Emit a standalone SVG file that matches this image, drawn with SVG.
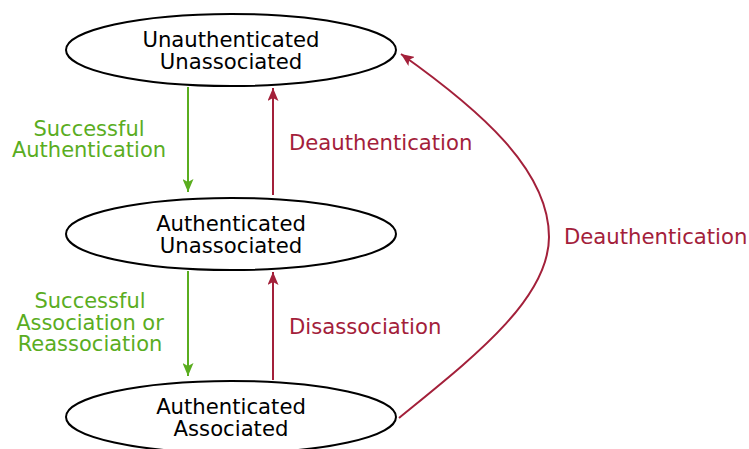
<svg xmlns="http://www.w3.org/2000/svg" width="749" height="449" viewBox="0 0 749 449">
  <defs>
    <style>
      .state { fill: #ffffff; stroke: #000000; stroke-width: 2; }
      .name { font-family: "DejaVu Sans", sans-serif; font-size: 21.2px; fill: #000000; text-anchor: middle; }
      .ok { stroke: #5aad1f; stroke-width: 2; fill: none; }
      .back { stroke: #a3203a; stroke-width: 2; fill: none; }
      .ok-label { font-family: "DejaVu Sans", sans-serif; font-size: 21px; fill: #5aad1f; text-anchor: middle; }
      .back-label { font-family: "DejaVu Sans", sans-serif; font-size: 21.2px; fill: #a3203a; }
    </style>
    <marker id="head-ok" viewBox="0 0 13 11" refX="13" refY="5.5" markerWidth="13" markerHeight="11" markerUnits="userSpaceOnUse" orient="auto">
      <path d="M0,0 L13,5.5 L0,11 L3,5.5 Z" fill="#5aad1f"/>
    </marker>
    <marker id="head-back" viewBox="0 0 13 11" refX="13" refY="5.5" markerWidth="13" markerHeight="11" markerUnits="userSpaceOnUse" orient="auto">
      <path d="M0,0 L13,5.5 L0,11 L3,5.5 Z" fill="#a3203a"/>
    </marker>
  </defs>

  <g id="connectors">
    <line class="ok" x1="188" y1="87" x2="188" y2="192" marker-end="url(#head-ok)"/>
    <line class="back" x1="273" y1="195" x2="273" y2="88" marker-end="url(#head-back)"/>
    <line class="ok" x1="188" y1="271" x2="188" y2="376" marker-end="url(#head-ok)"/>
    <line class="back" x1="273" y1="380" x2="273" y2="272" marker-end="url(#head-back)"/>
    <path class="back" d="M399,418 C470,360 549,300 549,237 C549,170 480,110 401,54" marker-end="url(#head-back)"/>
    <text class="ok-label" x="89" y="136">Successful</text>
    <text class="ok-label" x="89" y="157">Authentication</text>
    <text class="ok-label" x="90" y="308">Successful</text>
    <text class="ok-label" x="90" y="330">Association or</text>
    <text class="ok-label" x="90" y="351">Reassociation</text>
    <text class="back-label" x="289" y="150">Deauthentication</text>
    <text class="back-label" x="289" y="334">Disassociation</text>
    <text class="back-label" x="564" y="244">Deauthentication</text>
  </g>

  <g id="unauth-unassoc">
    <ellipse class="state" cx="231" cy="50" rx="165" ry="36"/>
    <text class="name" x="231" y="47">Unauthenticated</text>
    <text class="name" x="231" y="69">Unassociated</text>
  </g>

  <g id="auth-unassoc">
    <ellipse class="state" cx="231" cy="234" rx="165" ry="36"/>
    <text class="name" x="231" y="231">Authenticated</text>
    <text class="name" x="231" y="253">Unassociated</text>
  </g>

  <g id="auth-assoc">
    <ellipse class="state" cx="231" cy="417" rx="165" ry="36"/>
    <text class="name" x="231" y="414">Authenticated</text>
    <text class="name" x="231" y="436">Associated</text>
  </g>
</svg>
